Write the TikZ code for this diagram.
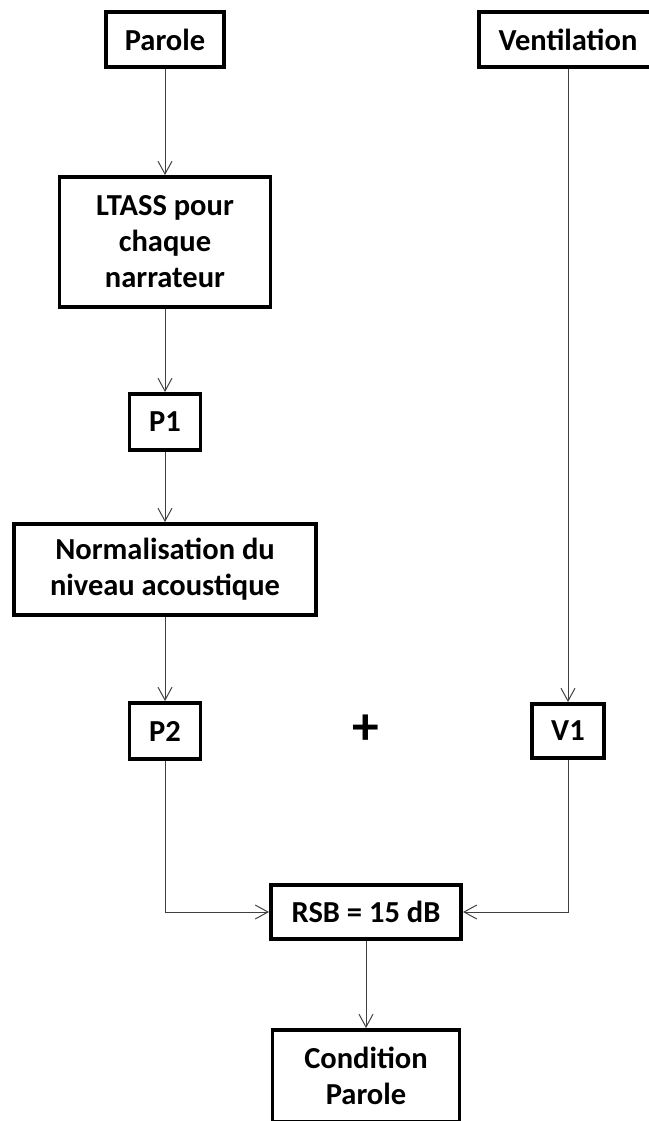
\documentclass[tikz,border=0pt]{standalone}
\usepackage{fontspec}
\setmainfont{Carlito}
\usetikzlibrary{arrows.meta}

\begin{document}
\begin{tikzpicture}[x=0.025cm, y=-0.025cm]
                \tikzstyle{every node}+=[inner sep=0pt, align=center, font=\fontsize{21.7}{25.6}\selectfont\bfseries]
                \tikzstyle{boite}=[draw=black, line width=2.8pt, fill=white]
                \tikzstyle{fleche}=[draw=black!75, line width=0.7pt, -{Straight Barb[length=0.32cm, width=0.35cm]}]
                \useasboundingbox (0,0) rectangle (649,1121);
                \clip (0,0) rectangle (649,1121);
                \node [boite, minimum width=2.95cm, minimum height=1.375cm] (parole) at (165,39.5) {Parole};
                \node [boite, minimum width=4.45cm, minimum height=1.375cm] (ventil) at (568,39.5) {Ventilation};
                \node [boite, minimum width=5.275cm, minimum height=3.25cm] (ltass) at (165,242) {LTASS pour\\chaque\\narrateur};
                \node [boite, minimum width=1.775cm, minimum height=1.4cm] (p1) at (165,422) {P1};
                \node [boite, minimum width=7.525cm, minimum height=2.275cm] (norm) at (165,569.5) {Normalisation du\\niveau acoustique};
                \node [boite, minimum width=1.775cm, minimum height=1.4cm] (p2) at (165,731) {P2};
                \node [font=\fontsize{38}{38}\selectfont\bfseries] (plus) at (366,730) {+};
                \node [boite, minimum width=1.8cm, minimum height=1.35cm] (v1) at (568,731) {V1};
                \node [boite, minimum width=4.75cm, minimum height=1.35cm] (rsb) at (366,912) {RSB = 15 dB};
                \node [boite, minimum width=4.675cm, minimum height=2.3cm] (cond) at (366,1076) {Condition\\Parole};
                \draw [fleche] (parole) -- (ltass);
                \draw [fleche] (ltass) -- (p1);
                \draw [fleche] (p1) -- (norm);
                \draw [fleche] (norm) -- (p2);
                \draw [fleche] (ventil) -- (v1);
                \draw [fleche] (p2) |- (rsb);
                \draw [fleche] (v1) |- (rsb);
                \draw [fleche] (rsb) -- (cond);
            \end{tikzpicture}
\end{document}
